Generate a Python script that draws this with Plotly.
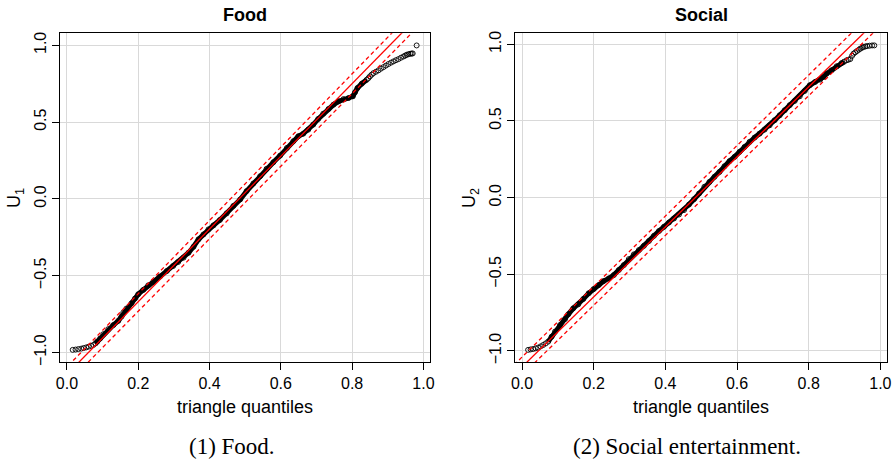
import plotly.graph_objects as go

# ---------------- data ----------------
# Food panel: theoretical triangle quantiles vs sorted U1
food_q = [0.016, 0.024, 0.032, 0.040, 0.047, 0.054, 0.061, 0.068, 0.074, 0.080,
          0.085, 0.093, 0.102, 0.116, 0.130, 0.144, 0.153, 0.158, 0.167, 0.181,
          0.191, 0.200, 0.214, 0.228, 0.242, 0.261, 0.280, 0.298, 0.312, 0.327,
          0.341, 0.355, 0.369, 0.383, 0.397, 0.411, 0.429, 0.448, 0.467, 0.486,
          0.504, 0.523, 0.542, 0.560, 0.579, 0.598, 0.617, 0.635, 0.649, 0.663,
          0.677, 0.691, 0.705, 0.719, 0.734, 0.748, 0.762, 0.776, 0.790, 0.802,
          0.808, 0.815, 0.827, 0.841,
          0.846, 0.850, 0.855, 0.860, 0.867, 0.874, 0.881, 0.888, 0.895, 0.902,
          0.909, 0.916, 0.923, 0.930, 0.937, 0.944, 0.949, 0.953, 0.958, 0.963,
          0.967, 0.970, 0.981]
food_u = [-0.982, -0.980, -0.977, -0.974, -0.970, -0.966, -0.961, -0.956, -0.950, -0.940,
          -0.928, -0.908, -0.880, -0.847, -0.821, -0.793, -0.765, -0.739, -0.713, -0.679,
          -0.648, -0.620, -0.592, -0.562, -0.540, -0.505, -0.469, -0.436, -0.410, -0.382,
          -0.350, -0.311, -0.263, -0.231, -0.198, -0.172, -0.137, -0.094, -0.045, -0.003,
          0.051, 0.101, 0.148, 0.196, 0.239, 0.282, 0.332, 0.376, 0.408, 0.425,
          0.451, 0.484, 0.521, 0.555, 0.586, 0.614, 0.635, 0.650, 0.657, 0.668,
          0.694, 0.722, 0.750, 0.776,
          0.787, 0.798, 0.809, 0.819, 0.828, 0.837, 0.848, 0.858, 0.868, 0.878,
          0.887, 0.895, 0.903, 0.910, 0.919, 0.927, 0.933, 0.938, 0.942, 0.945,
          0.946, 0.947, 0.999]
food_dense = [9, 64]          # index span where the points merge into a solid band

# Social panel: theoretical triangle quantiles vs sorted U2
social_q = [0.017, 0.024, 0.031, 0.038, 0.045, 0.052, 0.059, 0.066, 0.073,
            0.0825, 0.092, 0.106, 0.120, 0.129, 0.143, 0.157, 0.171, 0.186, 0.200,
            0.214, 0.228, 0.242, 0.256, 0.270, 0.284, 0.298, 0.312, 0.326, 0.340,
            0.354, 0.368, 0.382, 0.396, 0.410, 0.424, 0.438, 0.452, 0.466, 0.480,
            0.494, 0.509, 0.523, 0.537, 0.551, 0.565, 0.579, 0.593, 0.607, 0.621,
            0.635, 0.649, 0.663, 0.677, 0.691, 0.705, 0.719, 0.733, 0.747, 0.761,
            0.775, 0.789, 0.803, 0.818, 0.832, 0.841, 0.850, 0.864, 0.878, 0.892,
            0.899, 0.906, 0.911, 0.916, 0.921, 0.925, 0.930, 0.935, 0.940, 0.944,
            0.949, 0.953, 0.958, 0.963, 0.970, 0.977, 0.983]
social_u = [-0.993, -0.990, -0.987, -0.983, -0.978, -0.970, -0.961, -0.951, -0.939,
            -0.907, -0.874, -0.831, -0.792, -0.761, -0.722, -0.696, -0.661, -0.624, -0.596,
            -0.570, -0.544, -0.527, -0.505, -0.472, -0.440, -0.401, -0.370, -0.342, -0.314,
            -0.283, -0.249, -0.218, -0.190, -0.162, -0.136, -0.110, -0.081, -0.045, -0.010,
            0.027, 0.071, 0.103, 0.136, 0.168, 0.205, 0.238, 0.266, 0.299, 0.331,
            0.364, 0.392, 0.418, 0.444, 0.472, 0.505, 0.537, 0.570, 0.603, 0.631,
            0.661, 0.696, 0.733, 0.755, 0.770, 0.787, 0.809, 0.831, 0.857, 0.878,
            0.887, 0.896, 0.900, 0.904, 0.925, 0.939, 0.948, 0.957, 0.965, 0.972,
            0.978, 0.983, 0.986, 0.989, 0.991, 0.993, 0.993]
social_dense = [8, 70]

# reference lines: [intercept, slope]
food_line = [-1.1413, 2.3645]
food_band_upper = [-1.0930, 2.3840]
food_band_lower = [-1.2027, 2.3596]
social_line = [-1.1040, 2.2833]
social_band_upper = [-1.0398, 2.2992]
social_band_lower = [-1.1577, 2.2782]

x_ticks = [0.0, 0.2, 0.4, 0.6, 0.8, 1.0]
y_ticks = [-1.0, -0.5, 0.0, 0.5, 1.0]
x_range = [-0.0196, 1.0185]
food_y_range = [-1.061, 1.078]
social_y_range = [-1.072, 1.072]

panel_titles = ["Food", "Social"]
y_titles = ["U<sub>1</sub>", "U<sub>2</sub>"]
x_title = "triangle quantiles"
captions = ["(1) Food.", "(2) Social entertainment."]

# ---------------- figure ----------------
W, H = 893, 463
SANS = "Liberation Sans, Arial, Helvetica, sans-serif"
SERIF = "Liberation Serif, Times New Roman, serif"

fig = go.Figure()

panels = [
    dict(q=food_q, u=food_u, dense=food_dense, line=food_line,
         up=food_band_upper, lo=food_band_lower, yr=food_y_range,
         xa="x", ya="y", px=(60, 430)),
    dict(q=social_q, u=social_u, dense=social_dense, line=social_line,
         up=social_band_upper, lo=social_band_lower, yr=social_y_range,
         xa="x2", ya="y2", px=(515, 887)),
]

for p in panels:
    a, b = p["dense"]
    # dense band (overlapping circles look like a thick black stroke)
    fig.add_trace(go.Scatter(x=p["q"][a:b], y=p["u"][a:b], mode="lines",
                             line=dict(color="black", width=5),
                             xaxis=p["xa"], yaxis=p["ya"], hoverinfo="skip",
                             showlegend=False))
    fig.add_trace(go.Scatter(x=p["q"], y=p["u"], mode="markers",
                             marker=dict(symbol="circle-open", size=5, color="black",
                                         line=dict(width=0.9, color="black")),
                             xaxis=p["xa"], yaxis=p["ya"], showlegend=False))
    xs = [x_range[0] - 0.1, x_range[1] + 0.1]
    for params, dash in [(p["line"], "solid"), (p["up"], "4px,3px"), (p["lo"], "4px,3px")]:
        ys = [params[0] + params[1] * x for x in xs]
        fig.add_trace(go.Scatter(x=xs, y=ys, mode="lines",
                                 line=dict(color="#ff0000", width=1.3, dash=dash),
                                 xaxis=p["xa"], yaxis=p["ya"], hoverinfo="skip",
                                 showlegend=False))

y_dom = [1 - 362 / H, 1 - 33.3 / H]

def axis_common():
    return dict(showline=True, linecolor="black", linewidth=1.2, mirror=True,
                ticks="outside", ticklen=7, tickwidth=1, tickcolor="black",
                showgrid=True, gridcolor="#d9d9d9", gridwidth=1, zeroline=False,
                automargin=False,
                tickfont=dict(family=SANS, size=16, color="black"),
                tickformat=".1f")

lay = dict(width=W, height=H, margin=dict(l=0, r=0, t=0, b=0, autoexpand=False),
           paper_bgcolor="white", plot_bgcolor="white", showlegend=False)
for i, p in enumerate(panels):
    sx = "" if i == 0 else "2"
    xa = axis_common()
    xa.update(domain=[p["px"][0] / W, p["px"][1] / W], range=x_range,
              tickvals=x_ticks, anchor="y" + sx)
    ya = axis_common()
    ya.update(domain=y_dom, range=p["yr"], tickvals=y_ticks, tickangle=-90,
              anchor="x" + sx)
    lay["xaxis" + sx] = xa
    lay["yaxis" + sx] = ya
fig.update_layout(**lay)

ann = []
for i, p in enumerate(panels):
    cx = (p["px"][0] + p["px"][1]) / 2 / W
    ann.append(dict(text="<b>%s</b>" % panel_titles[i], x=cx, y=1 - 15 / H,
                    xref="paper", yref="paper", showarrow=False,
                    font=dict(family=SANS, size=18, color="black"),
                    xanchor="center", yanchor="middle"))
    ann.append(dict(text=x_title, x=cx, y=1 - 407 / H, xref="paper", yref="paper",
                    showarrow=False, font=dict(family=SANS, size=18, color="black"),
                    xanchor="center", yanchor="middle"))
    ann.append(dict(text=y_titles[i], x=(p["px"][0] - 45) / W, y=1 - 198 / H,
                    xref="paper", yref="paper", showarrow=False, textangle=-90,
                    font=dict(family=SANS, size=18, color="black"),
                    xanchor="center", yanchor="middle"))
    cap_x = [232, 687][i]
    ann.append(dict(text=captions[i], x=cap_x / W, y=1 - 446 / H, xref="paper",
                    yref="paper", showarrow=False,
                    font=dict(family=SERIF, size=23, color="black"),
                    xanchor="center", yanchor="middle"))
fig.update_layout(annotations=ann)

fig.write_html("out.html",
               config={"displayModeBar": False},
               post_script="document.body.style.margin='0';"
                           "document.body.style.padding='0';"
                           "document.body.style.overflow='hidden';")
